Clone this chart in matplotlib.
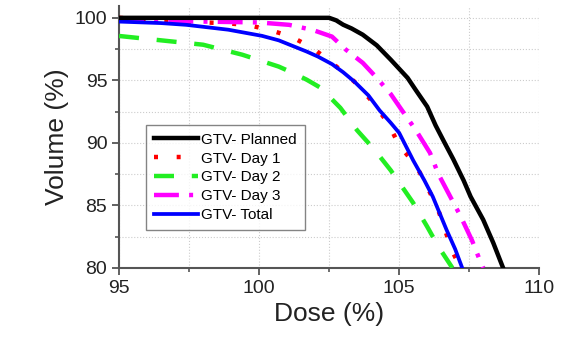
import numpy as np
import matplotlib
matplotlib.use("Agg")
import matplotlib.pyplot as plt
from matplotlib.ticker import MultipleLocator

# dose-volume curves
planned_x = [95.0, 102.5, 102.75, 103.0, 103.3, 103.7, 104.2, 104.7, 105.3, 105.6, 106.0, 106.3, 106.6,
             106.93, 107.3, 107.55, 108.0, 108.36, 108.71]
planned_y = [100.0, 100.0, 99.8, 99.45, 99.15, 98.65, 97.8, 96.65, 95.2, 94.2, 92.9, 91.4, 90.1,
             88.7, 87.0, 85.7, 83.85, 82.0, 80.0]

day1_x = [95.0, 97.25, 98.8, 99.57, 100.36, 101.14, 101.9, 102.6, 103.4, 104.0, 104.6, 105.0, 105.6,
          106.0, 106.4, 106.9, 107.2]
day1_y = [100.0, 99.7, 99.57, 99.44, 99.04, 98.5, 97.6, 96.4, 94.9, 93.4, 91.6, 89.8, 88.2,
          86.5, 84.6, 81.3, 80.0]

day2_x = [95.0, 96.5, 98.0, 99.4, 100.7, 101.2, 101.7, 102.2, 102.9, 103.5, 104.1, 104.7,
          105.5, 106.0, 106.4, 106.9]
day2_y = [98.55, 98.2, 97.85, 97.05, 96.1, 95.6, 95.05, 94.4, 92.8, 91.0, 89.5, 87.8,
          85.2, 83.3, 81.7, 80.0]

day3_x = [95.0, 98.0, 100.0, 101.07, 101.9, 102.6, 103.1, 103.7, 104.2, 104.7, 105.1, 105.6,
          106.1, 106.4, 106.8, 107.2, 107.6, 107.9, 108.0]
day3_y = [99.8, 99.7, 99.63, 99.44, 99.04, 98.5, 97.45, 96.4, 95.2, 93.9, 92.6, 91.0,
          89.2, 87.5, 85.8, 84.1, 82.2, 80.5, 80.0]

total_x = [95.0, 96.5, 97.4, 98.9, 100.1, 100.7, 101.2, 101.7, 102.1, 102.6, 103.0, 103.4,
           103.9, 104.3, 104.7, 105.0, 105.5, 105.9, 106.2, 106.7, 107.0, 107.25]
total_y = [99.7, 99.58, 99.44, 99.05, 98.56, 98.2, 97.75, 97.3, 96.9, 96.3, 95.65, 94.9,
           93.8, 92.6, 91.6, 90.8, 88.6, 87.0, 85.7, 83.0, 81.5, 80.0]

labels = ["GTV- Planned", "GTV- Day 1", "GTV- Day 2", "GTV- Day 3", "GTV- Total"]

plt.rcParams['font.family'] = ['Liberation Sans', 'DejaVu Sans']

fig = plt.figure(figsize=(5.67, 3.43), dpi=100)
ax = fig.add_axes([0.21, 0.219, 0.741, 0.764])

ax.plot(planned_x, planned_y, color='black', lw=3.2, label=labels[0], zorder=5)
ax.plot(day1_x, day1_y, color='red', lw=3.2, ls=(0, (0.9, 4.2)), label=labels[1], zorder=3)
ax.plot(day2_x, day2_y, color='#22ee22', lw=3.2, ls=(0, (4.5, 4.0)), label=labels[2], zorder=3)
ax.plot(day3_x, day3_y, color='magenta', lw=3.2, ls=(0, (5.6, 2.3, 0.9, 2.3)), label=labels[3], zorder=3)
ax.plot(total_x, total_y, color='blue', lw=2.7, label=labels[4], zorder=4)

ax.set_xlim(95, 110)
ax.set_ylim(80, 100.96)
ax.xaxis.set_major_locator(MultipleLocator(5))
ax.xaxis.set_minor_locator(MultipleLocator(2.5))
ax.yaxis.set_major_locator(MultipleLocator(5))
ax.yaxis.set_minor_locator(MultipleLocator(2.5))
ax.grid(True, which='both', color='#cccccc', ls=':', lw=0.8)

for s in ['top', 'right']:
    ax.spines[s].set_visible(False)
for s in ['left', 'bottom']:
    ax.spines[s].set_color('#555555')
    ax.spines[s].set_linewidth(1.5)
ax.tick_params(which='major', length=5, width=1.3, color='#555555', labelsize=14, labelcolor='#222222')
ax.tick_params(which='minor', length=3, width=1.2, color='#555555')

ax.set_xlabel("Dose (%)", fontsize=19, color='#222222')
ax.set_ylabel("Volume (%)", fontsize=19, color='#222222')

leg = ax.legend(loc='lower left', bbox_to_anchor=(0.065, 0.145), fontsize=11, frameon=True,
                fancybox=False, handlelength=2.9, handletextpad=0.2, borderpad=0.5,
                labelspacing=0.32, borderaxespad=0)
leg.get_frame().set_edgecolor('#666666')
leg.get_frame().set_linewidth(1.0)

fig.savefig("out.png", dpi=100)
